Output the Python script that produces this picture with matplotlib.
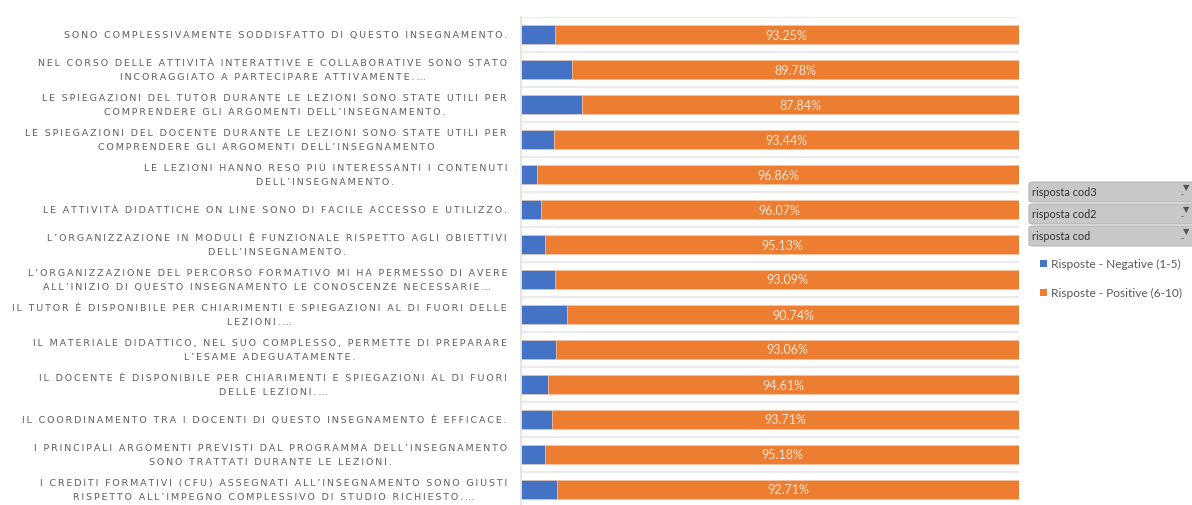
import numpy as np
import matplotlib.pyplot as plt
from matplotlib.patches import FancyBboxPatch, Rectangle

questions = [
    "SONO COMPLESSIVAMENTE SODDISFATTO DI QUESTO INSEGNAMENTO.",
    "NEL CORSO DELLE ATTIVITÀ INTERATTIVE E COLLABORATIVE SONO STATO\nINCORAGGIATO A PARTECIPARE ATTIVAMENTE.…",
    "LE SPIEGAZIONI DEL TUTOR DURANTE LE LEZIONI SONO STATE UTILI PER\nCOMPRENDERE GLI ARGOMENTI DELL’INSEGNAMENTO.",
    "LE SPIEGAZIONI DEL DOCENTE DURANTE LE LEZIONI SONO STATE UTILI PER\nCOMPRENDERE GLI ARGOMENTI DELL’INSEGNAMENTO",
    "LE LEZIONI HANNO RESO PIÙ INTERESSANTI I CONTENUTI\nDELL’INSEGNAMENTO.",
    "LE ATTIVITÀ DIDATTICHE ON LINE SONO DI FACILE ACCESSO E UTILIZZO.",
    "L’ORGANIZZAZIONE IN MODULI È FUNZIONALE RISPETTO AGLI OBIETTIVI\nDELL’INSEGNAMENTO.",
    "L’ORGANIZZAZIONE DEL PERCORSO FORMATIVO MI HA PERMESSO DI AVERE\nALL’INIZIO DI QUESTO INSEGNAMENTO LE CONOSCENZE NECESSARIE…",
    "IL TUTOR È DISPONIBILE PER CHIARIMENTI E SPIEGAZIONI AL DI FUORI DELLE\nLEZIONI.…",
    "IL MATERIALE DIDATTICO, NEL SUO COMPLESSO, PERMETTE DI PREPARARE\nL’ESAME ADEGUATAMENTE.",
    "IL DOCENTE È DISPONIBILE PER CHIARIMENTI E SPIEGAZIONI AL DI FUORI\nDELLE LEZIONI.…",
    "IL COORDINAMENTO TRA I DOCENTI DI QUESTO INSEGNAMENTO È EFFICACE.",
    "I PRINCIPALI ARGOMENTI PREVISTI DAL PROGRAMMA DELL’INSEGNAMENTO\nSONO TRATTATI DURANTE LE LEZIONI.",
    "I CREDITI FORMATIVI (CFU) ASSEGNATI ALL’INSEGNAMENTO SONO GIUSTI\nRISPETTO ALL’IMPEGNO COMPLESSIVO DI STUDIO RICHIESTO.…",
]
positive = [93.25, 89.78, 87.84, 93.44, 96.86, 96.07, 95.13,
            93.09, 90.74, 93.06, 94.61, 93.71, 95.18, 92.71]
negative = [round(100 - p, 2) for p in positive]

filters = ["risposta cod3", "risposta cod2", "risposta cod"]
series = ["Risposte - Negative (1-5)", "Risposte - Positive (6-10)"]

BLUE = "#4472C4"
ORANGE = "#ED7D31"
LABEL = "#5e5e5e"


def tracked(s):
    # wide letter spacing for the category captions
    return "\n".join("\u2009".join(line) for line in s.split("\n"))


W, H = 1192, 506
fig = plt.figure(figsize=(W / 100, H / 100), dpi=100)
fig.patch.set_facecolor("white")

# plot area in pixels: x 521..1019, y 18..508
ax = fig.add_axes([521 / W, (H - 508) / H, 498 / W, 490 / H])
y = np.arange(len(positive))
ax.barh(y, negative, height=0.57, color=BLUE, edgecolor="#f3c7a8", linewidth=0.4)
ax.barh(y, positive, left=negative, height=0.57, color=ORANGE,
        edgecolor="#f3c7a8", linewidth=0.4)

for i, p in enumerate(positive):
    ax.text(negative[i] + p / 2, i, f"{p:.2f}%", ha="center", va="center",
            fontsize=9, family="Lato", color="#fde3d0")

ax.set_xlim(0, 100)
ax.set_ylim(len(positive) - 0.5, -0.5)
ax.set_yticks(np.arange(-0.5, len(positive), 1.0), minor=True)
ax.set_yticks([])
ax.set_xticks([])
ax.grid(True, which="minor", axis="y", color="#ebebeb", linewidth=1.6)
ax.tick_params(which="both", length=0)
for side in ["top", "right", "bottom"]:
    ax.spines[side].set_visible(False)
ax.spines["left"].set_color("#e0e0e0")
ax.spines["left"].set_linewidth(1.2)
ax.set_axisbelow(True)

for i, q in enumerate(questions):
    ax.text(-14 / 498, i, tracked(q), transform=ax.get_yaxis_transform(),
            ha="right", va="center", multialignment="center",
            fontsize=6.8, color=LABEL, linespacing=1.7)

# slicer buttons on the right
def px(x, yy):
    return x / W, 1 - yy / H

for k, name in enumerate(filters):
    top = 183 + k * 22
    x0, y0 = px(1029, top + 20)
    btn = FancyBboxPatch((x0, y0), (1200 - 1029) / W, 20 / H,
                         boxstyle="round,pad=0,rounding_size=0.004",
                         transform=fig.transFigure, facecolor="#c8c8c8",
                         edgecolor="#b4b4b4", linewidth=0.8)
    fig.patches.append(btn)
    tx, ty = px(1032, top + 10)
    fig.text(tx, ty, name, fontsize=7.8, family="Lato", color="#333333",
             va="center", ha="left")
    fx, fy = px(1186, top + 5)
    fig.text(fx, fy, "▼", fontsize=6, color="#555555", va="center", ha="center")
    dx, dy = px(1182, top + 12)
    fig.text(dx, dy, "-", fontsize=6, color="#555555", va="center", ha="center")

for k, (name, col) in enumerate(zip(series, [BLUE, ORANGE])):
    cy = 264 + k * 29
    sx, sy = px(1040, cy + 3.5)
    fig.patches.append(Rectangle((sx, sy), 7 / W, 7 / H, transform=fig.transFigure,
                                 facecolor=col, edgecolor="none"))
    tx, ty = px(1051, cy)
    fig.text(tx, ty, name, fontsize=8.6, family="Lato", color="#595959",
             va="center", ha="left")

fig.savefig("out.png", dpi=100)
